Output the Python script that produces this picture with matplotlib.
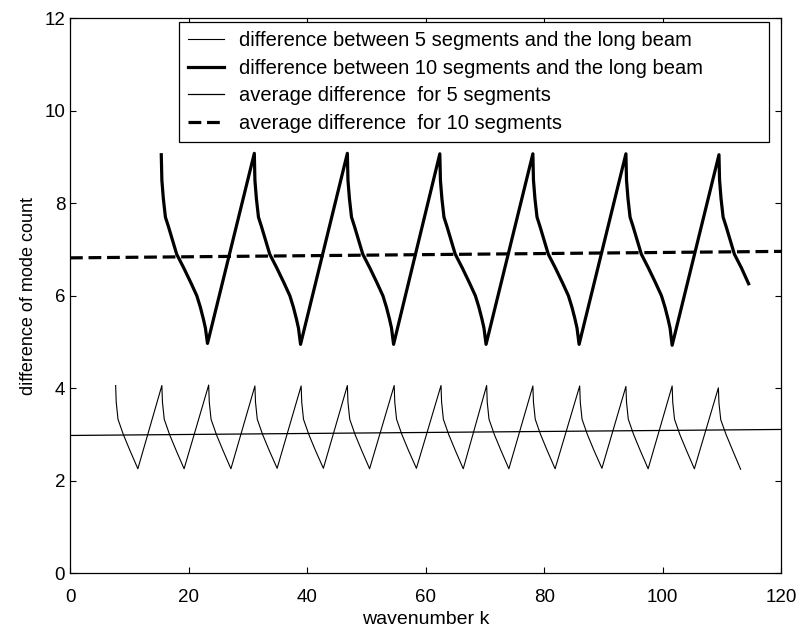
import matplotlib.pyplot as plt

plt.rcParams['font.family'] = ['Liberation Sans', 'DejaVu Sans']

# difference between 5 segments and the long beam (one falling branch per line)
x5 = [7.7, 7.8, 8.1, 9.0, 10.1, 11.45,
      15.5, 15.6, 15.9, 16.8, 17.9, 19.25,
      23.4, 23.5, 23.8, 24.7, 25.8, 27.15,
      31.2, 31.3, 31.6, 32.5, 33.6, 34.95,
      39.0, 39.1, 39.4, 40.3, 41.4, 42.75,
      46.8, 46.9, 47.2, 48.1, 49.2, 50.55,
      54.7, 54.8, 55.1, 56.0, 57.1, 58.45,
      62.6, 62.7, 63.0, 63.9, 65.0, 66.35,
      70.3, 70.4, 70.7, 71.6, 72.7, 74.05,
      78.1, 78.2, 78.5, 79.4, 80.5, 81.85,
      86.0, 86.1, 86.4, 87.3, 88.4, 89.75,
      93.8, 93.9, 94.2, 95.1, 96.2, 97.55,
      101.6, 101.7, 102.0, 102.9, 104.0, 105.35,
      109.4, 109.5, 109.8, 110.7, 111.8, 113.15]
y5 = [4.06, 3.7, 3.33, 3.0, 2.66, 2.26,
      4.06, 3.7, 3.33, 3.0, 2.66, 2.26,
      4.07, 3.7, 3.33, 3.0, 2.66, 2.26,
      4.05, 3.7, 3.33, 3.0, 2.66, 2.27,
      4.05, 3.7, 3.33, 3.0, 2.66, 2.27,
      4.06, 3.7, 3.33, 3.0, 2.66, 2.26,
      4.06, 3.7, 3.33, 3.0, 2.66, 2.27,
      4.06, 3.7, 3.33, 3.0, 2.66, 2.26,
      4.06, 3.7, 3.33, 3.0, 2.66, 2.26,
      4.05, 3.7, 3.33, 3.0, 2.66, 2.26,
      4.05, 3.7, 3.33, 3.0, 2.66, 2.27,
      4.04, 3.7, 3.33, 3.0, 2.66, 2.26,
      4.05, 3.7, 3.33, 3.0, 2.66, 2.26,
      4.01, 3.68, 3.32, 3.0, 2.66, 2.25]

# difference between 10 segments and the long beam
x10 = [15.4, 15.5, 15.75, 16.1, 16.6, 18.0, 19.2, 20.4, 21.4, 22.0, 22.5, 22.85, 23.2,
       31.1, 31.2, 31.45, 31.8, 32.3, 33.7, 34.9, 36.1, 37.1, 37.7, 38.2, 38.55, 38.9,
       46.8, 46.9, 47.15, 47.5, 48.0, 49.4, 50.6, 51.8, 52.8, 53.4, 53.9, 54.25, 54.6,
       62.4, 62.5, 62.75, 63.1, 63.6, 65.0, 66.2, 67.4, 68.4, 69.0, 69.5, 69.85, 70.2,
       78.1, 78.2, 78.45, 78.8, 79.3, 80.7, 81.9, 83.1, 84.1, 84.7, 85.2, 85.55, 85.9,
       93.8, 93.9, 94.15, 94.5, 95.0, 96.4, 97.6, 98.8, 99.8, 100.4, 100.9, 101.25, 101.6,
       109.5, 109.6, 109.85, 110.2, 110.7, 112.1, 113.3, 114.5]
y10 = [9.05, 8.5, 8.1, 7.7, 7.5, 6.9, 6.6, 6.28, 6.0, 5.75, 5.5, 5.3, 4.97,
       9.08, 8.5, 8.1, 7.7, 7.5, 6.9, 6.6, 6.28, 6.0, 5.75, 5.5, 5.3, 4.95,
       9.08, 8.5, 8.1, 7.7, 7.5, 6.9, 6.6, 6.28, 6.0, 5.75, 5.5, 5.3, 4.95,
       9.07, 8.5, 8.1, 7.7, 7.5, 6.9, 6.6, 6.28, 6.0, 5.75, 5.5, 5.3, 4.95,
       9.07, 8.5, 8.1, 7.7, 7.5, 6.9, 6.6, 6.28, 6.0, 5.75, 5.5, 5.3, 4.95,
       9.07, 8.5, 8.1, 7.7, 7.5, 6.9, 6.6, 6.28, 6.0, 5.75, 5.5, 5.3, 4.93,
       9.05, 8.5, 8.1, 7.7, 7.5, 6.9, 6.6, 6.26]

# averages
xavg = [0, 120]
avg5 = [2.98, 3.11]
avg10 = [6.82, 6.96]

labels = ["difference between 5 segments and the long beam",
          "difference between 10 segments and the long beam",
          "average difference  for 5 segments",
          "average difference  for 10 segments"]

fig = plt.figure(figsize=(8, 6.3), dpi=100)
ax = fig.add_axes([0.0875, 0.09, 0.889, 0.881])

ax.plot(x5, y5, color='black', lw=0.8, label=labels[0])
ax.plot(x10, y10, color='black', lw=2.3, label=labels[1])
ax.plot(xavg, avg5, color='black', lw=0.9, label=labels[2])
ax.plot(xavg, avg10, color='black', lw=2.3, dashes=(4, 1.8), label=labels[3])

ax.set_xlim(0, 120)
ax.set_ylim(0, 12)
ax.set_xticks(range(0, 121, 20))
ax.set_yticks(range(0, 13, 2))
ax.tick_params(direction='in', top=True, right=True, length=4, labelsize=13.5, width=0.8)
ax.tick_params(axis='x', pad=11)
for s in ax.spines.values():
    s.set_linewidth(0.9)

ax.set_xlabel("wavenumber k", fontsize=14, labelpad=4)
ax.set_ylabel("difference of mode count", fontsize=13, labelpad=5)

leg = ax.legend(loc='upper left', bbox_to_anchor=(0.153, 0.993, 0.83, 0.0),
                mode='expand', fontsize=14.5,
                fancybox=False, framealpha=1, edgecolor='black',
                borderaxespad=0, borderpad=0.45, handlelength=1.8,
                handletextpad=0.75, labelspacing=0.42)
leg.get_frame().set_linewidth(0.9)

fig.savefig("out.png", dpi=100)
